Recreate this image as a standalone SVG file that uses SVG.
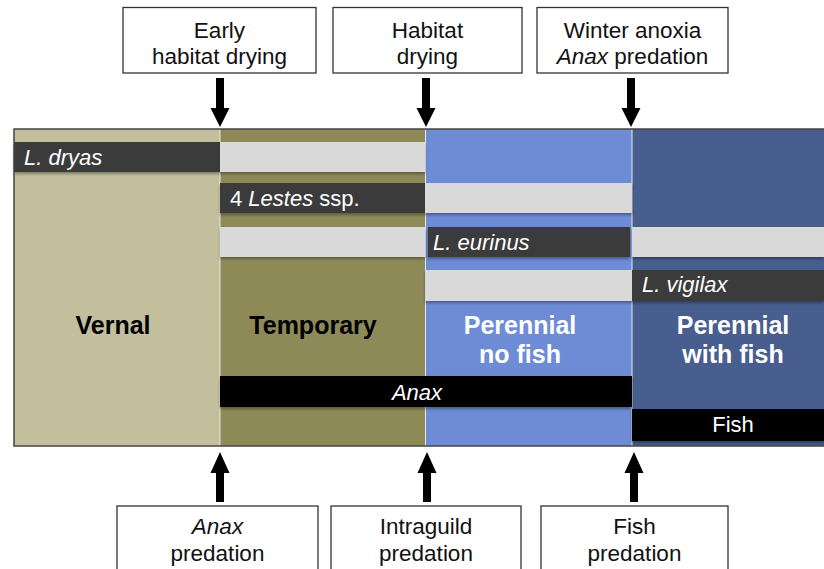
<svg xmlns="http://www.w3.org/2000/svg" width="824" height="569" viewBox="0 0 824 569">
<style>
.box{fill:#fff;stroke:#333;stroke-width:1.3}
.t{font-family:"Liberation Sans",Arial,sans-serif;font-size:22.5px;fill:#111;text-anchor:middle}
.zone{font-family:"Liberation Sans",Arial,sans-serif;font-size:25px;font-weight:bold;text-anchor:middle}
.bl{font-family:"Liberation Sans",Arial,sans-serif;font-size:22px;fill:#fff}
.dark{fill:#3b3b3b}
.grey{fill:#d9d9d9}
.blk{fill:#000}
.sep{stroke:#e8e8e0;stroke-width:1}
</style>
<defs>
<filter id="sh" x="-5%" y="-20%" width="110%" height="160%">
<feDropShadow dx="0" dy="2" stdDeviation="1.5" flood-color="#000" flood-opacity="0.35"/>
</filter>
</defs>
<g id="panel">
<rect x="14" y="129" width="206" height="317" fill="#c3bf9c"/>
<rect x="220" y="129" width="205" height="317" fill="#8e8a58"/>
<rect x="425" y="129" width="207" height="317" fill="#6d8cd5"/>
<rect x="632" y="129" width="192" height="317" fill="#485e8f"/>
<line class="sep" x1="220" y1="129" x2="220" y2="446"/>
<line class="sep" x1="425.5" y1="129" x2="425.5" y2="446"/>
<line class="sep" x1="632" y1="129" x2="632" y2="446"/>
</g>
<g id="bars" filter="url(#sh)">
<rect class="dark" x="14" y="142" width="206" height="30"/>
<rect class="grey" x="220" y="142" width="205" height="30"/>
<rect class="dark" x="220" y="183" width="205" height="30"/>
<rect class="grey" x="425" y="183" width="207" height="30"/>
<rect class="grey" x="220" y="227" width="205" height="30"/>
<rect class="dark" x="428" y="227" width="202" height="30"/>
<rect class="grey" x="632" y="227" width="192" height="30"/>
<rect class="grey" x="425" y="270" width="207" height="31"/>
<rect class="dark" x="632" y="270" width="192" height="31"/>
<rect class="blk" x="220" y="376" width="412" height="31"/>
<rect class="blk" x="632" y="409" width="192" height="32"/>
</g>
<g id="bar-labels">
<text class="bl" x="24" y="165" font-style="italic">L. dryas</text>
<text class="bl" x="230" y="206">4 <tspan font-style="italic">Lestes</tspan> ssp.</text>
<text class="bl" x="433" y="250" font-style="italic">L. eurinus</text>
<text class="bl" x="642" y="292" font-style="italic">L. vigilax</text>
<text class="bl" x="417" y="400" font-style="italic" text-anchor="middle">Anax</text>
<text class="bl" x="733" y="432" text-anchor="middle">Fish</text>
</g>
<g id="zones">
<text class="zone" x="113" y="334" fill="#000">Vernal</text>
<text class="zone" x="313" y="334" fill="#000">Temporary</text>
<text class="zone" x="520" y="334" fill="#fff">Perennial</text>
<text class="zone" x="520" y="363" fill="#fff">no fish</text>
<text class="zone" x="733" y="334" fill="#fff">Perennial</text>
<text class="zone" x="733" y="363" fill="#fff">with fish</text>
</g>
<rect x="14" y="129" width="830" height="317" fill="none" stroke="#444" stroke-width="1.5"/>
<g id="node-early-drying">
<rect class="box" x="123" y="7.5" width="193" height="65.5"/>
<text class="t" x="219.5" y="38">Early</text>
<text class="t" x="219.5" y="64">habitat drying</text>
</g>
<g id="node-habitat-drying">
<rect class="box" x="333" y="7.5" width="189" height="65.5"/>
<text class="t" x="427.5" y="38">Habitat</text>
<text class="t" x="427.5" y="64">drying</text>
</g>
<g id="node-winter-anoxia">
<rect class="box" x="537" y="7.5" width="191" height="65.5"/>
<text class="t" x="632.5" y="38">Winter anoxia</text>
<text class="t" x="632.5" y="64"><tspan font-style="italic">Anax</tspan> predation</text>
</g>
<g id="node-anax-predation">
<rect class="box" x="117" y="506" width="201" height="80"/>
<text class="t" x="217.5" y="534" font-style="italic">Anax</text>
<text class="t" x="217.5" y="561">predation</text>
</g>
<g id="node-intraguild">
<rect class="box" x="331" y="506" width="190" height="80"/>
<text class="t" x="426" y="534">Intraguild</text>
<text class="t" x="426" y="561">predation</text>
</g>
<g id="node-fish-predation">
<rect class="box" x="541" y="506" width="187" height="80"/>
<text class="t" x="634.5" y="534">Fish</text>
<text class="t" x="634.5" y="561">predation</text>
</g>
<g id="connectors" fill="#000">
<polygon points="216,78 224,78 224,108 229.5,108 220,127 210.5,108 216,108"/>
<polygon points="422,78 430,78 430,108 435.5,108 426,127 416.5,108 422,108"/>
<polygon points="627,78 635,78 635,108 640.5,108 631,127 621.5,108 627,108"/>
<polygon points="216,502 224,502 224,473 229.5,473 220,452 210.5,473 216,473"/>
<polygon points="423,502 431,502 431,473 436.5,473 427,452 417.5,473 423,473"/>
<polygon points="630,502 638,502 638,473 643.5,473 634,452 624.5,473 630,473"/>
</g>
</svg>
